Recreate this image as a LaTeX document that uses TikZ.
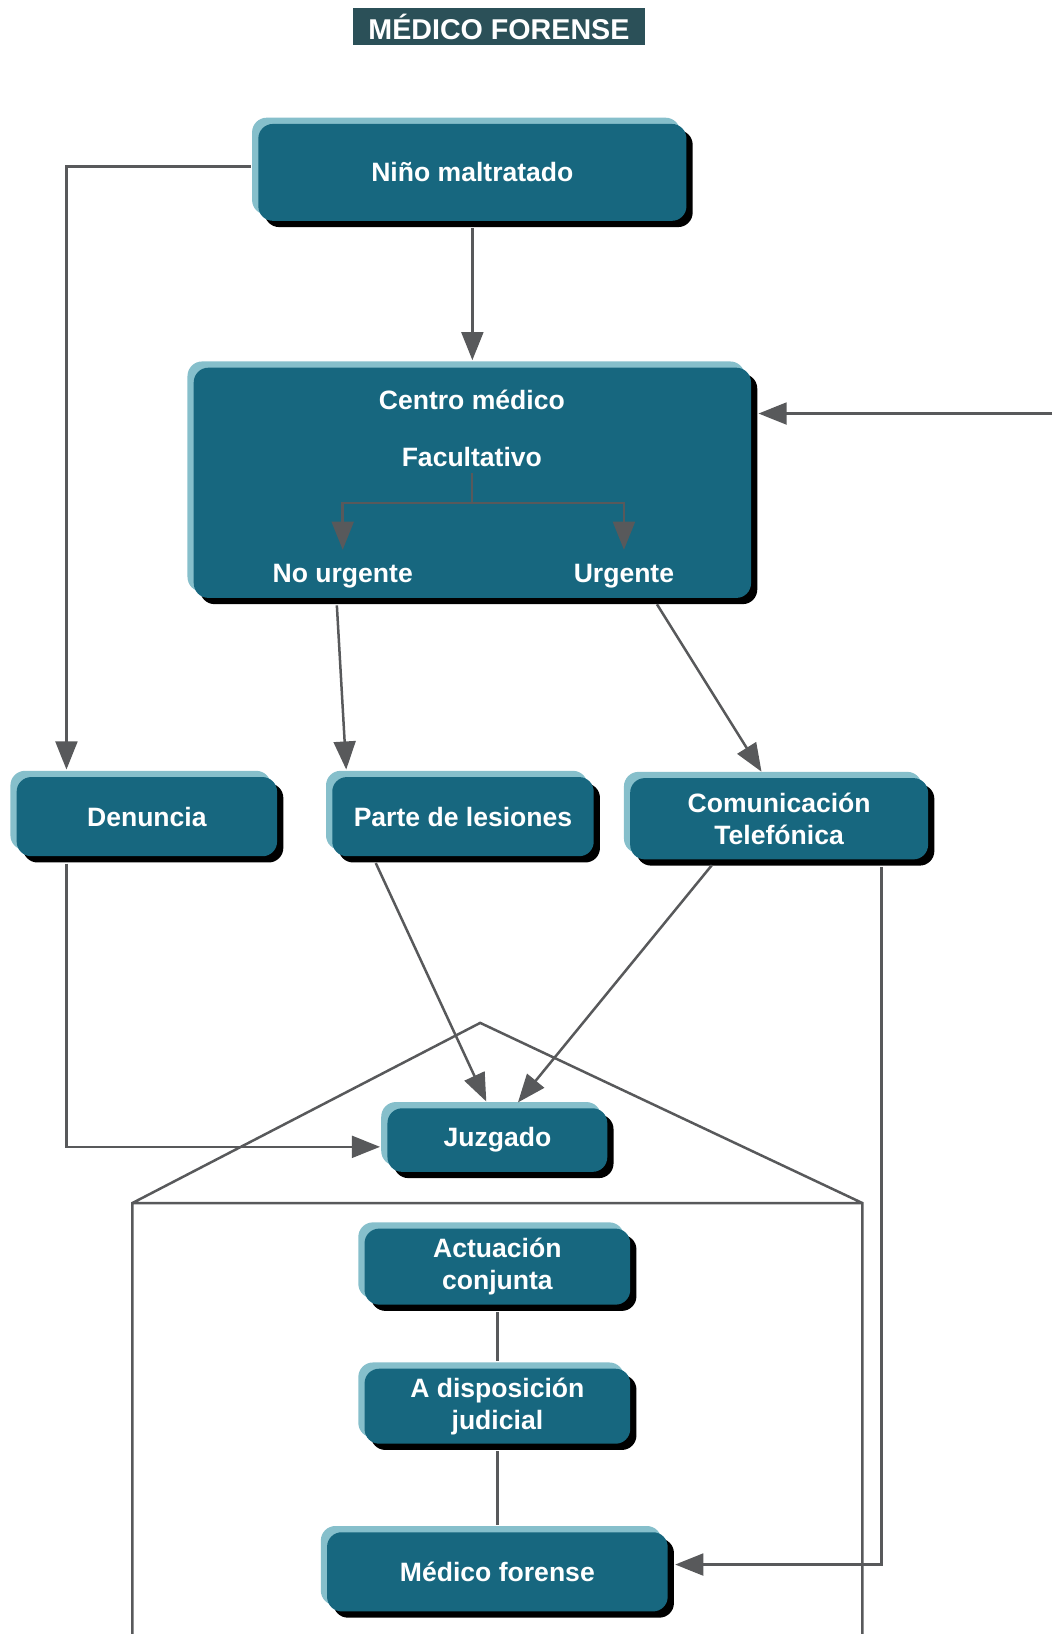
\documentclass[tikz,border=0pt]{standalone}
\usepackage{fontspec}
\newfontfamily\boxfont{Liberation Sans}
\usepackage{tikz}
\usetikzlibrary{arrows.meta, shadows}
\definecolor{boxfill}{HTML}{17677F}
\definecolor{bevel}{HTML}{86BFCB}
\definecolor{titlebg}{HTML}{2B5058}
\definecolor{linegray}{HTML}{58595B}

\begin{document}
\begin{tikzpicture}[x=1pt, y=-1pt, >={Triangle[length=27pt, width=21pt]},
    every node/.style={font=\boxfont\bfseries\fontsize{25.5pt}{31pt}\selectfont, text=white}]
    \tikzset{box/.style={rounded corners=14pt, fill=boxfill, inner sep=0pt, align=center,
            general shadow={fill=bevel, shadow xshift=-6pt, shadow yshift=6pt},
            general shadow={fill=black, shadow xshift=6pt, shadow yshift=-6pt}},
        lab/.style={inner sep=0pt, text height=19pt, text depth=5pt},
        conn/.style={draw=linegray, line width=2.4pt},
        arr/.style={conn, ->, shorten >=7pt, shorten <=7pt}}
    \useasboundingbox (0,0) rectangle (1010,1568.7);
    % title
    \node[fill=titlebg, minimum width=280pt, minimum height=35pt, inner sep=0pt,
        font=\boxfont\bfseries\fontsize{27.5pt}{31pt}\selectfont] (titulo) at (479,25.5) {MÉDICO FORENSE};
    % boxes
    \node[box, minimum width=411pt, minimum height=93pt] (nino) at (453.5,165.5) {Niño maltratado};
    \node[box, minimum width=535pt, minimum height=221pt] (centro) at (453.5,463.5) {};
    \node[box, minimum width=250pt, minimum height=76pt] (denuncia) at (141,784) {Denuncia};
    \node[box, minimum width=251pt, minimum height=76pt] (parte) at (444.5,784) {Parte de lesiones};
    \node[box, minimum width=286pt, minimum height=78pt] (comun) at (748,786) {Comunicación\\Telefónica};
    \node[box, minimum width=211pt, minimum height=61pt] (juzgado) at (477.5,1094.5) {Juzgado};
    \node[box, minimum width=255pt, minimum height=73pt] (actuacion) at (477.5,1216) {Actuación\\conjunta};
    \node[box, minimum width=255pt, minimum height=72pt] (disposicion) at (477.5,1350) {A disposición\\judicial};
    \node[box, minimum width=327pt, minimum height=76pt] (medico) at (477.5,1509) {Médico forense};
    % labels inside the medical centre
    \node[lab] (cm) at (453,386) {Centro médico};
    \node[lab] (fac) at (453,441) {Facultativo};
    \node[lab] (nourg) at (329,552) {No urgente};
    \node[lab] (urg) at (599,552) {Urgente};
    \coordinate (split) at (453,483);
    \draw[conn] ([yshift=-1pt]fac.south) -- (split);
    \draw[conn, ->] (split) -| ([yshift=12pt]nourg.north);
    \draw[conn, ->] (split) -| ([yshift=12pt]urg.north);
    % connectors
    \draw[arr] (nino) -- (centro);
    \draw[arr] ([yshift=5.5pt]nino.west) -| ([xshift=48pt]denuncia.north west);
    \coordinate (ext) at (1017,397);
    \draw[arr] (ext) -- (ext -| centro.east);
    \draw[arr] ([xshift=-130.5pt]centro.south) -- ([xshift=14pt]parte.north west);
    \draw[arr] ([xshift=173.5pt]centro.south) -- ([xshift=130pt]comun.north west);
    \draw[arr] ([xshift=48pt]denuncia.south west) |- ([yshift=-6.5pt]juzgado.west);
    \draw[arr] ([xshift=39pt]parte.south west) -- ([xshift=98pt]juzgado.north west);
    \draw[arr] ([xshift=83pt]comun.south west) -- ([xshift=121pt]juzgado.north west);
    \draw[arr] ([xshift=-45pt]comun.south east) |- ([yshift=7pt]medico.east);
    \draw[conn, shorten >=7pt, shorten <=7pt] (actuacion) -- (disposicion);
    \draw[conn, shorten >=7pt, shorten <=7pt] (disposicion) -- (medico);
    % house outline round the court
    \draw[conn] (127,1575) -- (127,1155) -- (461,982) -- (828,1155) -- (828,1575)
        (127,1155) -- (828,1155);
\end{tikzpicture}
\end{document}
